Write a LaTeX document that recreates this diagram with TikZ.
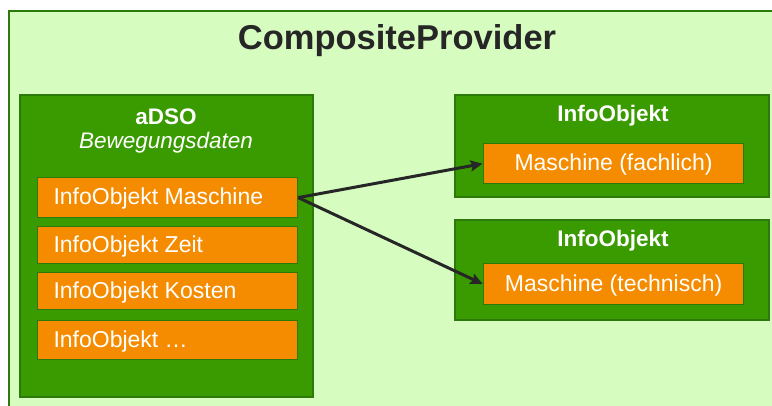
\documentclass[tikz,border=0pt]{standalone}
\usepackage{fontspec}
\setmainfont{Liberation Sans}
\usetikzlibrary{arrows.meta}
\definecolor{paleGreen}{RGB}{214,252,192}
\definecolor{boxGreen}{RGB}{58,155,0}
\definecolor{edgeGreen}{RGB}{45,122,12}
\definecolor{itemOrange}{RGB}{245,140,0}
\definecolor{inkGray}{RGB}{38,38,38}
\tikzset{
  container/.style={fill=boxGreen, draw=edgeGreen, line width=1.5pt},
  item/.style={rectangle, fill=itemOrange, draw=edgeGreen, line width=1.2pt,
    inner sep=0pt, anchor=north west},
  itemtext/.style={text=white, font=\fontsize{23}{26}\selectfont},
  heading/.style={text=white, font=\fontsize{22.5}{26}\selectfont\bfseries},
  link/.style={draw=inkGray, line width=3pt,
    -{Stealth[length=12pt,width=11pt,inset=2pt]}, shorten >=0.5pt}
}
\begin{document}
\begin{tikzpicture}[x=1pt,y=-1pt]
  \useasboundingbox (0,0) rectangle (772,405);
  \fill[white] (0,0) rectangle (772,405);

  % outer CompositeProvider frame (runs off the right and bottom edges)
  \fill[paleGreen] (9,11) rectangle (775,410);
  \draw[edgeGreen, line width=2.5pt] (9,410) -- (9,11) -- (775,11);
  \node[text=inkGray, font=\fontsize{34.5}{40}\selectfont\bfseries] (title) at (397,41) {CompositeProvider};

  % aDSO container with its InfoObjects
  \draw[container] (20,95) rectangle (313,397);
  \node[heading] (adso) at (166,117) {aDSO};
  \node[text=white, font=\fontsize{22.5}{26}\selectfont\itshape] (adsosub) at (166,143) {Bewegungsdaten};

  \node[item, minimum width=260pt, minimum height=40pt] (m) at (37,177) {};
  \node[itemtext, anchor=west] at ([xshift=13pt,yshift=-1pt]m.west) {InfoObjekt Maschine};
  \node[item, minimum width=260pt, minimum height=37pt] (z) at (37,226) {};
  \node[itemtext, anchor=west] at ([xshift=13pt,yshift=-1pt]z.west) {InfoObjekt Zeit};
  \node[item, minimum width=260pt, minimum height=37pt] (k) at (37,272) {};
  \node[itemtext, anchor=west] at ([xshift=13pt,yshift=-1pt]k.west) {InfoObjekt Kosten};
  \node[item, minimum width=260pt, minimum height=39pt] (r) at (37,320) {};
  \node[itemtext, anchor=west] at ([xshift=13pt,yshift=-1pt]r.west) {InfoObjekt \dots};

  % InfoObjekt (fachlich)
  \draw[container] (455,95) rectangle (769,197);
  \node[heading] (io1) at (613,116) {InfoObjekt};
  \node[item, minimum width=260pt, minimum height=40pt] (f) at (483,143) {};
  \node[itemtext] at ([yshift=-1pt]f.center) {Maschine (fachlich)};

  % InfoObjekt (technisch)
  \draw[container] (455,220) rectangle (769,320);
  \node[heading] (io2) at (613,241) {InfoObjekt};
  \node[item, minimum width=260pt, minimum height=41pt] (t) at (483,263) {};
  \node[itemtext] at ([yshift=-1pt]t.center) {Maschine (technisch)};

  % mappings
  \draw[link] (m.east) -- (f.west);
  \draw[link] (m.east) -- (t.west);
\end{tikzpicture}
\end{document}
